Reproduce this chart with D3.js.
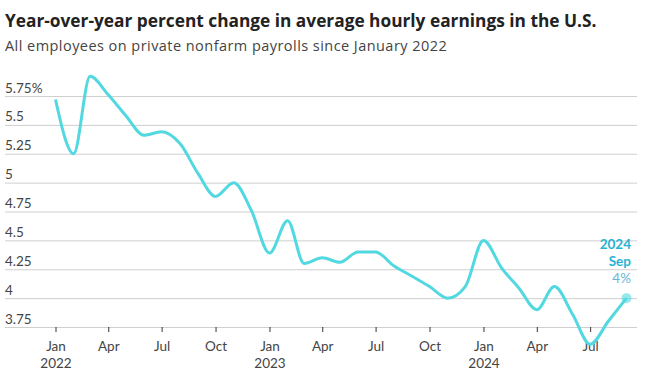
<!DOCTYPE html>
<html>
<head>
<meta charset="utf-8">
<script src="https://cdn.jsdelivr.net/npm/d3@7"></script>
<style>
  body { margin: 0; background: #fff; }
  svg { display: block; font-family: Lato, "Open Sans", sans-serif; }
  .title { font-family: "Open Sans", sans-serif; font-size: 17.3px; font-weight: 700; fill: #222; }
  .subtitle { font-family: "Open Sans", sans-serif; font-size: 14.5px; fill: #444; letter-spacing: 0.45px; }
  .axis text { font-size: 13.5px; fill: #444; font-family: Lato, sans-serif; }
</style>
</head>
<body>
<div id="chart"></div>
<script>
// monthly observations, Jan 2022 .. Sep 2024
const months = [
  "2022-01", "2022-02", "2022-03", "2022-04", "2022-05", "2022-06",
  "2022-07", "2022-08", "2022-09", "2022-10", "2022-11", "2022-12",
  "2023-01", "2023-02", "2023-03", "2023-04", "2023-05", "2023-06",
  "2023-07", "2023-08", "2023-09", "2023-10", "2023-11", "2023-12",
  "2024-01", "2024-02", "2024-03", "2024-04", "2024-05", "2024-06",
  "2024-07", "2024-08", "2024-09"
];
const values = [
  5.72, 5.25, 5.92, 5.76, 5.58, 5.41, 5.44, 5.34, 5.08, 4.88, 5.00, 4.76,
  4.39, 4.67, 4.30, 4.35, 4.31, 4.40, 4.40, 4.28, 4.19, 4.10, 4.00, 4.10,
  4.50, 4.26, 4.09, 3.90, 4.10, 3.86, 3.60, 3.80, 4.00
];
const yTicks = [3.75, 4, 4.25, 4.5, 4.75, 5, 5.25, 5.5, 5.75];
const yTickLabels = ["3.75", "4", "4.25", "4.5", "4.75", "5", "5.25", "5.5", "5.75%"];
const monthNames = ["Jan", "Apr", "Jul", "Oct"];

const WIDTH = 651;
const HEIGHT = 381;
const LINE_COLOR = "#52d8e0";

window.onload = function() {
  let parse = d3.utcParse("%Y-%m");
  let data = months.map(function(m, i) {
    return { date: parse(m), value: values[i] };
  });

  let svg = d3.select("#chart")
    .append("svg")
    .attr("width", WIDTH)
    .attr("height", HEIGHT);

  svg.append("text").attr("class", "title")
    .attr("x", 5).attr("y", 27)
    .text("Year-over-year percent change in average hourly earnings in the U.S.");
  svg.append("text").attr("class", "subtitle")
    .attr("x", 5).attr("y", 51)
    .text("All employees on private nonfarm payrolls since January 2022");

  let x = d3.scaleUtc()
    .domain([data[0].date, data[data.length - 1].date])
    .range([55.5, 626.5]);
  let y = d3.scaleLinear()
    .domain([3.75, 5.75])
    .range([327, 96]);

  // gridlines + labels sitting above them
  let yAxis = svg.append("g")
    .attr("class", "axis")
    .attr("transform", "translate(5,0)")
    .call(d3.axisRight(y)
      .tickValues(yTicks)
      .tickSize(632)
      .tickFormat(function(d, i) { return yTickLabels[i]; }));
  yAxis.select(".domain").remove();
  yAxis.selectAll(".tick line").attr("stroke", "#cfcfcf");
  yAxis.selectAll(".tick text")
    .attr("x", 0).attr("dy", -4)
    .attr("text-anchor", "start");

  // month ticks
  let xAxis = svg.append("g")
    .attr("class", "axis")
    .attr("transform", "translate(0,327)")
    .call(d3.axisBottom(x)
      .ticks(d3.utcMonth.every(3))
      .tickSize(5)
      .tickFormat(function(d) { return monthNames[d.getUTCMonth() / 3]; }));
  xAxis.select(".domain").remove();
  xAxis.selectAll(".tick line").attr("stroke", "#333");
  xAxis.selectAll(".tick text").attr("y", 24).attr("dy", 0);
  xAxis.selectAll(".tick")
    .filter(function(d) { return d.getUTCMonth() === 0; })
    .append("text")
    .attr("fill", "#444")
    .attr("y", 41)
    .attr("text-anchor", "middle")
    .text(function(d) { return d.getUTCFullYear(); });

  let line = d3.line()
    .curve(d3.curveMonotoneX)
    .x(function(d) { return x(d.date); })
    .y(function(d) { return y(d.value); });

  svg.append("path")
    .datum(data)
    .attr("fill", "none")
    .attr("stroke", LINE_COLOR)
    .attr("stroke-width", 3)
    .attr("stroke-linejoin", "round")
    .attr("d", line);

  let last = data[data.length - 1];
  svg.append("circle")
    .attr("cx", x(last.date))
    .attr("cy", y(last.value))
    .attr("r", 5)
    .attr("fill", LINE_COLOR)
    .attr("fill-opacity", 0.6);

  let note = svg.append("g")
    .attr("text-anchor", "end")
    .attr("font-size", 13.5);
  note.append("text")
    .attr("x", 631).attr("y", 249)
    .attr("font-weight", 700).attr("fill", "#25b3d3")
    .text(d3.utcFormat("%Y")(last.date));
  note.append("text")
    .attr("x", 631).attr("y", 266)
    .attr("font-weight", 700).attr("fill", "#25b3d3")
    .text(d3.utcFormat("%b")(last.date));
  note.append("text")
    .attr("x", 631).attr("y", 283)
    .attr("fill", "#6ab6d8")
    .text(last.value + "%");
};
</script>
</body>
</html>
